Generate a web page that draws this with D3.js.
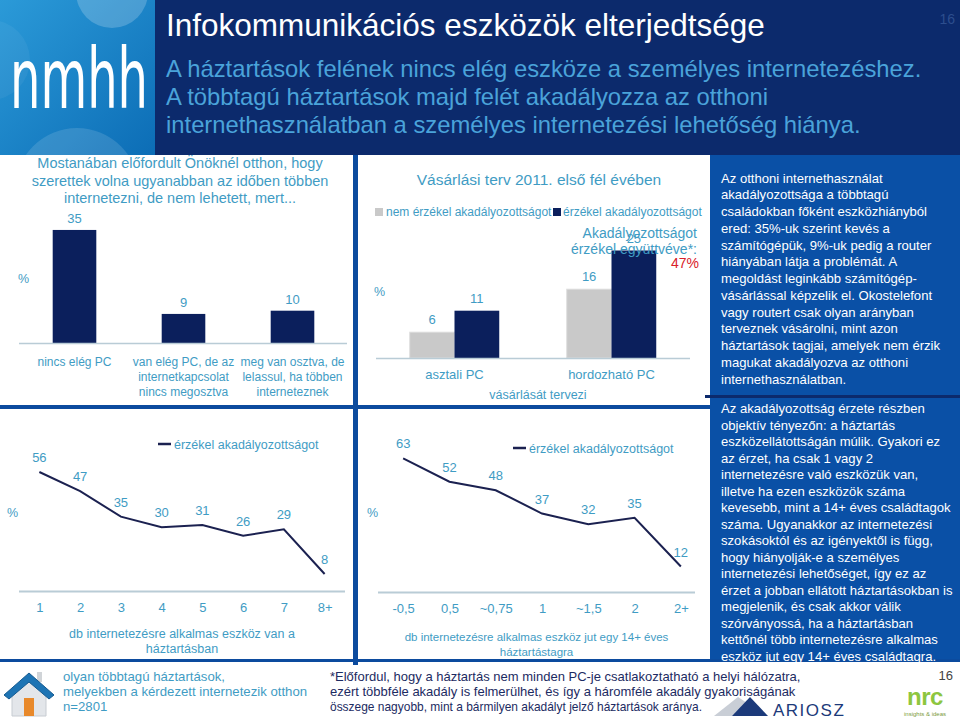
<!DOCTYPE html>
<html><head><meta charset="utf-8">
<script src="https://cdn.jsdelivr.net/npm/d3@7"></script>
<style>html,body{margin:0;padding:0;background:#fff;}svg{display:block;font-family:"Liberation Sans",Arial,sans-serif;}</style>
</head><body>
<script>
// ---------- data ----------
const reasonCats = ["nincs elég PC", "van elég PC, de az|internetkapcsolat|nincs megosztva", "meg van osztva, de|lelassul, ha többen|interneteznek"];
const reasonVals = [35, 9, 10];
const planCats = ["asztali PC", "hordozható PC"];
const planSeries = ["nem érzékel akadályozottságot", "érzékel akadályozottságot"];
const planNotVals = [6, 16];
const planYesVals = [11, 25];
const deviceCats = ["1", "2", "3", "4", "5", "6", "7", "8+"];
const deviceVals = [56, 47, 35, 30, 31, 26, 29, 8];
const perMemberCats = ["-0,5", "0,5", "~0,75", "1", "~1,5", "2", "2+"];
const perMemberVals = [63, 52, 48, 37, 32, 35, 12];

const TEAL = "#3f9cc4", NAVY = "#0b1f5c", HEAD = "#0c2a6c", DIV = "#0c4b9e", BOX = "#0a50a6";

const svg = d3.select("body").append("svg").attr("width", 960).attr("height", 720);

function mtext(g, x, y, lines, lh, attrs) {
  const t = g.append("text").attr("x", x).attr("y", y);
  Object.entries(attrs || {}).forEach(([k, v]) => t.attr(k, v));
  lines.forEach((l, i) => t.append("tspan").attr("x", x).attr("dy", i ? lh : 0).text(l));
  return t;
}

// ---------- header ----------
svg.append("rect").attr("x", 0).attr("y", 0).attr("width", 960).attr("height", 155).attr("fill", HEAD);
const defs = svg.append("defs");
const lg = defs.append("linearGradient").attr("id", "logo").attr("x1", 0).attr("y1", 0).attr("x2", 1).attr("y2", 1);
lg.append("stop").attr("offset", 0).attr("stop-color", "#2b9ad8");
lg.append("stop").attr("offset", 1).attr("stop-color", "#0c6db6");
svg.append("rect").attr("x", 0).attr("y", 0).attr("width", 155).attr("height", 155).attr("fill", "url(#logo)");
svg.append("clipPath").attr("id", "lc").append("rect").attr("width", 155).attr("height", 155);
const lgG = svg.append("g").attr("clip-path", "url(#lc)");
lgG.append("circle").attr("cx", 112).attr("cy", -8).attr("r", 36).attr("fill", "#fff").attr("opacity", 0.2);
lgG.append("circle").attr("cx", 77).attr("cy", 190).attr("r", 62).attr("fill", "#fff").attr("opacity", 0.13);
lgG.append("circle").attr("cx", -10).attr("cy", 60).attr("r", 40).attr("fill", "#fff").attr("opacity", 0.05);
lgG.append("text").attr("x", 10).attr("y", 108).attr("font-size", 84).attr("font-family", "DejaVu Sans")
  .attr("textLength", 138).attr("lengthAdjust", "spacingAndGlyphs").attr("fill", "#fff").text("nmhh");

svg.append("text").attr("x", 166).attr("y", 36).attr("font-size", 31.5).attr("fill", "#fff").text("Infokommunikációs eszközök elterjedtsége");
mtext(svg, 166, 76.5, ["A háztartások felének nincs elég eszköze a személyes internetezéshez.", "A többtagú háztartások majd felét akadályozza az otthoni", "internethasználatban a személyes internetezési lehetőség hiánya."], 28, {"font-size": 23.8, fill: "#4aa3da"});
svg.append("text").attr("x", 955).attr("y", 24).attr("text-anchor", "end").attr("font-size", 14).attr("fill", "#2d4e8e").text("16");

// ---------- panels ----------
svg.append("rect").attr("x", 0).attr("y", 155).attr("width", 960).attr("height", 505).attr("fill", "#fff");
svg.append("rect").attr("x", 710).attr("y", 155).attr("width", 250).attr("height", 505).attr("fill", BOX);
svg.append("rect").attr("x", 705).attr("y", 395).attr("width", 255).attr("height", 3).attr("fill", HEAD);
svg.append("rect").attr("x", 353).attr("y", 155).attr("width", 5).attr("height", 510).attr("fill", DIV);
svg.append("rect").attr("x", 0).attr("y", 405).attr("width", 710).attr("height", 4).attr("fill", DIV);
svg.append("rect").attr("x", 0).attr("y", 659).attr("width", 960).attr("height", 3).attr("fill", DIV);
svg.append("rect").attr("x", 155).attr("y", 150).attr("width", 805).attr("height", 5).attr("fill", HEAD);

// ---------- chart 1: bars ----------
const c1 = svg.append("g");
mtext(c1, 180, 168, ["Mostanában előfordult Önöknél otthon, hogy", "szerettek volna ugyanabban az időben többen", "internetezni, de nem lehetett, mert..."], 17.5, {"font-size": 14.5, fill: TEAL, "text-anchor": "middle"});
const x1 = d3.scaleBand().domain(reasonCats).range([20, 347]).paddingInner(0.6).paddingOuter(0.3);
const y1 = d3.scaleLinear().domain([0, 40]).range([343, 213.8]);
c1.selectAll("rect.b").data(reasonVals).join("rect").attr("class", "b")
  .attr("x", (d, i) => x1(reasonCats[i])).attr("width", x1.bandwidth())
  .attr("y", d => y1(d)).attr("height", d => y1(0) - y1(d)).attr("fill", NAVY);
c1.append("line").attr("x1", 19).attr("x2", 347).attr("y1", y1(0) + 0.5).attr("y2", y1(0) + 0.5).attr("stroke", "#b9ccd6").attr("stroke-width", 1.5);
c1.selectAll("text.v").data(reasonVals).join("text").attr("class", "v")
  .attr("x", (d, i) => x1(reasonCats[i]) + x1.bandwidth() / 2).attr("y", d => y1(d) - 7)
  .attr("text-anchor", "middle").attr("font-size", 13).attr("fill", TEAL).text(d => d);
reasonCats.forEach(c => mtext(c1, x1(c) + x1.bandwidth() / 2, 366, c.split("|"), 15, {"font-size": 12, fill: TEAL, "text-anchor": "middle"}));
c1.append("text").attr("x", 18).attr("y", 283).attr("font-size", 12.5).attr("fill", TEAL).text("%");

// ---------- chart 2: grouped bars ----------
const c2 = svg.append("g");
c2.append("text").attr("x", 539).attr("y", 185).attr("text-anchor", "middle").attr("font-size", 15.5).attr("fill", TEAL).text("Vásárlási terv 2011. első fél évében");
const colors2 = ["#c9c9c9", NAVY];
const leg2 = [[375, 386], [553, 563]];
planSeries.forEach((s, i) => {
  c2.append("rect").attr("x", leg2[i][0]).attr("y", 208).attr("width", 8).attr("height", 8).attr("fill", colors2[i]);
  c2.append("text").attr("x", leg2[i][1]).attr("y", 216).attr("font-size", 12).attr("fill", TEAL).text(s);
});
const x2 = d3.scaleBand().domain(planCats).range([376, 690]).paddingInner(0.43).paddingOuter(0.215);
const xs2 = d3.scaleBand().domain([0, 1]).range([0, x2.bandwidth()]);
const y2 = d3.scaleLinear().domain([0, 30]).range([358, 229]);
const series2 = [planNotVals, planYesVals];
series2.forEach((vals, si) => {
  c2.selectAll("rect.s" + si).data(vals).join("rect").attr("class", "s" + si)
    .attr("x", (d, i) => x2(planCats[i]) + xs2(si)).attr("width", xs2.bandwidth())
    .attr("y", d => y2(d)).attr("height", d => y2(0) - y2(d)).attr("fill", colors2[si])
    .attr("stroke", si === 0 ? "#dcdcdc" : "none");
  c2.selectAll("text.v" + si).data(vals).join("text").attr("class", "v" + si)
    .attr("x", (d, i) => x2(planCats[i]) + xs2(si) + xs2.bandwidth() / 2).attr("y", d => y2(d) - 8)
    .attr("text-anchor", "middle").attr("font-size", 13).attr("fill", TEAL).text(d => d);
});
c2.append("line").attr("x1", 376).attr("x2", 690).attr("y1", y2(0) + 0.5).attr("y2", y2(0) + 0.5).attr("stroke", "#b9ccd6").attr("stroke-width", 1.5);
planCats.forEach(c => c2.append("text").attr("x", x2(c) + x2.bandwidth() / 2).attr("y", 379).attr("text-anchor", "middle").attr("font-size", 13).attr("fill", TEAL).text(c));
c2.append("text").attr("x", 538).attr("y", 399).attr("text-anchor", "middle").attr("font-size", 12.5).attr("fill", TEAL).text("vásárlását tervezi");
c2.append("text").attr("x", 374).attr("y", 296).attr("font-size", 12.5).attr("fill", TEAL).text("%");
mtext(c2, 697, 238, ["Akadályozottságot", "érzékel együttvéve*:"], 16, {"font-size": 14, fill: TEAL, "text-anchor": "end"});
c2.append("text").attr("x", 699).attr("y", 268).attr("text-anchor", "end").attr("font-size", 14).attr("fill", "#d9202a").text("47%");

// ---------- line charts ----------
function lineChart(cats, vals, xr, yr, base, legend, title, titleY, pctX, titleSize) {
  const g = svg.append("g");
  const x = d3.scalePoint().domain(cats).range(xr).padding(0.5);
  const y = d3.scaleLinear().domain([0, 60]).range(yr);
  g.append("line").attr("x1", base[0]).attr("x2", base[1]).attr("y1", y(0) + 0.5).attr("y2", y(0) + 0.5).attr("stroke", "#b9ccd6").attr("stroke-width", 2);
  g.append("path").datum(vals).attr("fill", "none").attr("stroke", "#1b2150").attr("stroke-width", 2)
    .attr("d", d3.line().x((d, i) => x(cats[i])).y(d => y(d)));
  g.selectAll("text.v").data(vals).join("text").attr("class", "v")
    .attr("x", (d, i) => x(cats[i])).attr("y", d => y(d) - 10)
    .attr("text-anchor", "middle").attr("font-size", 13).attr("fill", TEAL).text(d => d);
  const ax = g.append("g").attr("transform", `translate(0,${y(0)})`).call(d3.axisBottom(x).tickSize(0).tickPadding(12));
  ax.select(".domain").remove();
  ax.selectAll("text").attr("font-size", 13).attr("fill", TEAL).attr("font-family", "Liberation Sans, Arial, sans-serif");
  g.append("line").attr("x1", legend[0]).attr("x2", legend[0] + 13).attr("y1", legend[1]).attr("y2", legend[1]).attr("stroke", "#1b2150").attr("stroke-width", 2.5);
  g.append("text").attr("x", legend[0] + 16).attr("y", legend[1] + 4.5).attr("font-size", 12.5).attr("fill", TEAL).text("érzékel akadályozottságot");
  mtext(g, (base[0] + base[1]) / 2, titleY, title, 15, {"font-size": titleSize, fill: TEAL, "text-anchor": "middle"});
  g.append("text").attr("x", pctX).attr("y", 517).attr("font-size", 12.5).attr("fill", TEAL).text("%");
}
lineChart(deviceCats, deviceVals, [19, 345], [591, 463.5], [19, 345], [158, 444], ["db internetezésre alkalmas eszköz van a", "háztartásban"], 638, 7, 12.5);
lineChart(perMemberCats, perMemberVals, [380, 704], [592, 464.8], [378, 695], [513, 448], ["db internetezésre alkalmas eszköz jut egy 14+ éves", "háztartástagra"], 641, 367, 11.5);

// ---------- right text boxes ----------
const box1 = ["Az otthoni internethasználat", "akadályozottsága a többtagú", "családokban főként eszközhiányból", "ered: 35%-uk szerint kevés a", "számítógépük, 9%-uk pedig a router", "hiányában látja a problémát. A", "megoldást leginkább számítógép-", "vásárlással képzelik el. Okostelefont", "vagy routert csak olyan arányban", "terveznek vásárolni, mint azon", "háztartások tagjai, amelyek nem érzik", "magukat akadályozva az otthoni", "internethasználatban."];
const box2 = ["Az akadályozottság érzete részben", "objektív tényezőn: a háztartás", "eszközellátottságán múlik. Gyakori ez", "az érzet, ha csak 1 vagy 2", "internetezésre való eszközük van,", "illetve ha ezen eszközök száma", "kevesebb, mint a 14+ éves családtagok", "száma. Ugyanakkor az internetezési", "szokásoktól és az igényektől is függ,", "hogy hiányolják-e a személyes", "internetezési lehetőséget, így ez az", "érzet a jobban ellátott háztartásokban is", "megjelenik, és csak akkor válik", "szórványossá, ha a háztartásban", "kettőnél több internetezésre alkalmas", "eszköz jut egy 14+ éves családtagra."];
mtext(svg, 721, 182.5, box1, 16.75, {"font-size": 13.1, fill: "#fff"});
mtext(svg, 721, 413, box2, 16.5, {"font-size": 13.1, fill: "#fff"});

// ---------- footer ----------
const ft = svg.append("g");
// house icon
ft.append("path").attr("d", "M12,693 L12,716 L46,716 L46,693 L29,679 Z").attr("fill", "#e3e6ea").attr("stroke", "#c7ccd2");
ft.append("rect").attr("x", 24).attr("y", 698).attr("width", 10).attr("height", 18).attr("fill", "#e8892b");
ft.append("rect").attr("x", 37).attr("y", 672).attr("width", 5).attr("height", 10).attr("fill", "#d0d4d8");
ft.append("path").attr("d", "M4,695 L29,673 L54,695 L49,699 L29,682 L9,699 Z").attr("fill", "#1d74b4").attr("stroke", "#155a90").attr("stroke-width", 1);
mtext(ft, 63, 681, ["olyan többtagú háztartások,", "melyekben a kérdezett internetezik otthon", "n=2801"], 15, {"font-size": 13.2, fill: TEAL});
const fn = mtext(ft, 330, 681, ["*Előfordul, hogy a háztartás nem minden PC-je csatlakoztatható a helyi hálózatra,", "ezért többféle akadály is felmerülhet, és így a háromféle akadály gyakoriságának", "összege nagyobb, mint a bármilyen akadályt jelző háztartások aránya."], 15, {"font-size": 13, fill: "#1c2b62"});
fn.selectAll("tspan").filter((d, i) => i === 2).attr("textLength", 372).attr("lengthAdjust", "spacingAndGlyphs");
ft.append("text").attr("x", 953).attr("y", 680).attr("text-anchor", "end").attr("font-size", 13).attr("fill", "#444").text("16");
// ARIOSZ logo
ft.append("path").attr("d", "M714,716 L738,697 L747,703 L732,716 Z").attr("fill", "#c9ced6");
ft.append("path").attr("d", "M732,716 L750,697 L768,716 Z").attr("fill", "#1c3a7a");
ft.append("text").attr("x", 773).attr("y", 716).attr("font-size", 17).attr("fill", "#1c3a7a").attr("letter-spacing", 1.5).text("ARIOSZ");
// nrc logo
ft.append("text").attr("x", 925).attr("y", 705).attr("text-anchor", "middle").attr("font-size", 24).attr("font-weight", "bold").attr("fill", "#8dc63f").attr("letter-spacing", -0.5).text("nrc");
ft.append("text").attr("x", 925).attr("y", 716).attr("text-anchor", "middle").attr("font-size", 6).attr("fill", "#7a9a3a").text("insights & ideas");
</script>
</body></html>
